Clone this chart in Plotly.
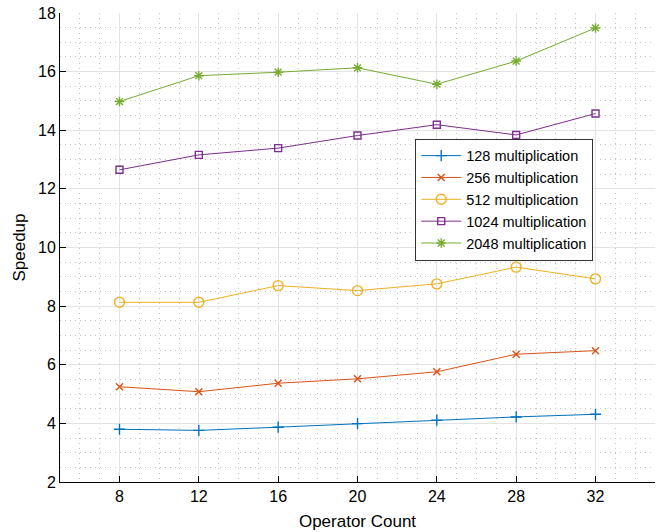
import plotly.graph_objects as go

operator_count = [8, 12, 16, 20, 24, 28, 32]

speedup_128 = [3.80, 3.76, 3.87, 3.99, 4.11, 4.22, 4.31]
speedup_256 = [5.25, 5.08, 5.37, 5.52, 5.76, 6.36, 6.48]
speedup_512 = [8.13, 8.13, 8.70, 8.53, 8.76, 9.33, 8.93]
speedup_1024 = [12.65, 13.16, 13.39, 13.82, 14.19, 13.84, 14.57]
speedup_2048 = [14.98, 15.86, 15.98, 16.13, 15.57, 16.36, 17.49]

series = [
    ("128 multiplication", speedup_128, "#0072BD", "cross-thin-open"),
    ("256 multiplication", speedup_256, "#D95319", "x-thin-open"),
    ("512 multiplication", speedup_512, "#EDB120", "circle-open"),
    ("1024 multiplication", speedup_1024, "#7E2F8E", "square-open"),
    ("2048 multiplication", speedup_2048, "#77AC30", "asterisk-open"),
]

marker_sizes = {
    "cross-thin-open": 8,
    "x-thin-open": 7,
    "circle-open": 10,
    "square-open": 7,
    "asterisk-open": 8,
}

fig = go.Figure()
for name, values, color, symbol in series:
    fig.add_trace(go.Scatter(
        x=operator_count, y=values, name=name, mode="lines+markers",
        line=dict(color=color, width=1),
        marker=dict(symbol=symbol, size=marker_sizes[symbol], color=color,
                    line=dict(color=color, width=1.4)),
    ))

font_family = "Liberation Sans, Arial, sans-serif"

axis_common = dict(
    showline=True, linecolor="black", linewidth=1,
    ticks="inside", ticklen=6, tickcolor="black",
    showgrid=True, gridcolor="#e3e3e3", gridwidth=1,
    zeroline=False, mirror=False, automargin=False,
    tickfont=dict(family=font_family, size=16, color="black"),
)

minor_grid = dict(showgrid=True, gridcolor="#c4c4c4", griddash="1px,4px",
                  gridwidth=1, ticks="")

fig.update_xaxes(
    range=[5, 35], tickvals=[8, 12, 16, 20, 24, 28, 32],
    minor=dict(dtick=1, tick0=0, **minor_grid),
    title=dict(text="Operator Count", standoff=10,
               font=dict(family=font_family, size=17, color="black")),
    **axis_common,
)
fig.update_yaxes(
    range=[2, 18], dtick=2, tick0=0,
    minor=dict(dtick=0.5, tick0=0, **minor_grid),
    title=dict(text="Speedup", standoff=8,
               font=dict(family=font_family, size=17, color="black")),
    **axis_common,
)

fig.update_layout(
    width=665, height=532,
    margin=dict(l=60, r=10, t=13, b=50),
    paper_bgcolor="white", plot_bgcolor="white",
    font=dict(family=font_family, color="black"),
    legend=dict(
        x=0.597, y=0.732, xanchor="left", yanchor="top",
        bgcolor="white", bordercolor="#333333", borderwidth=1,
        font=dict(family=font_family, size=14.5, color="black"),
        itemwidth=40, tracegroupgap=0,
    ),
)

fig.write_html("out.html")
